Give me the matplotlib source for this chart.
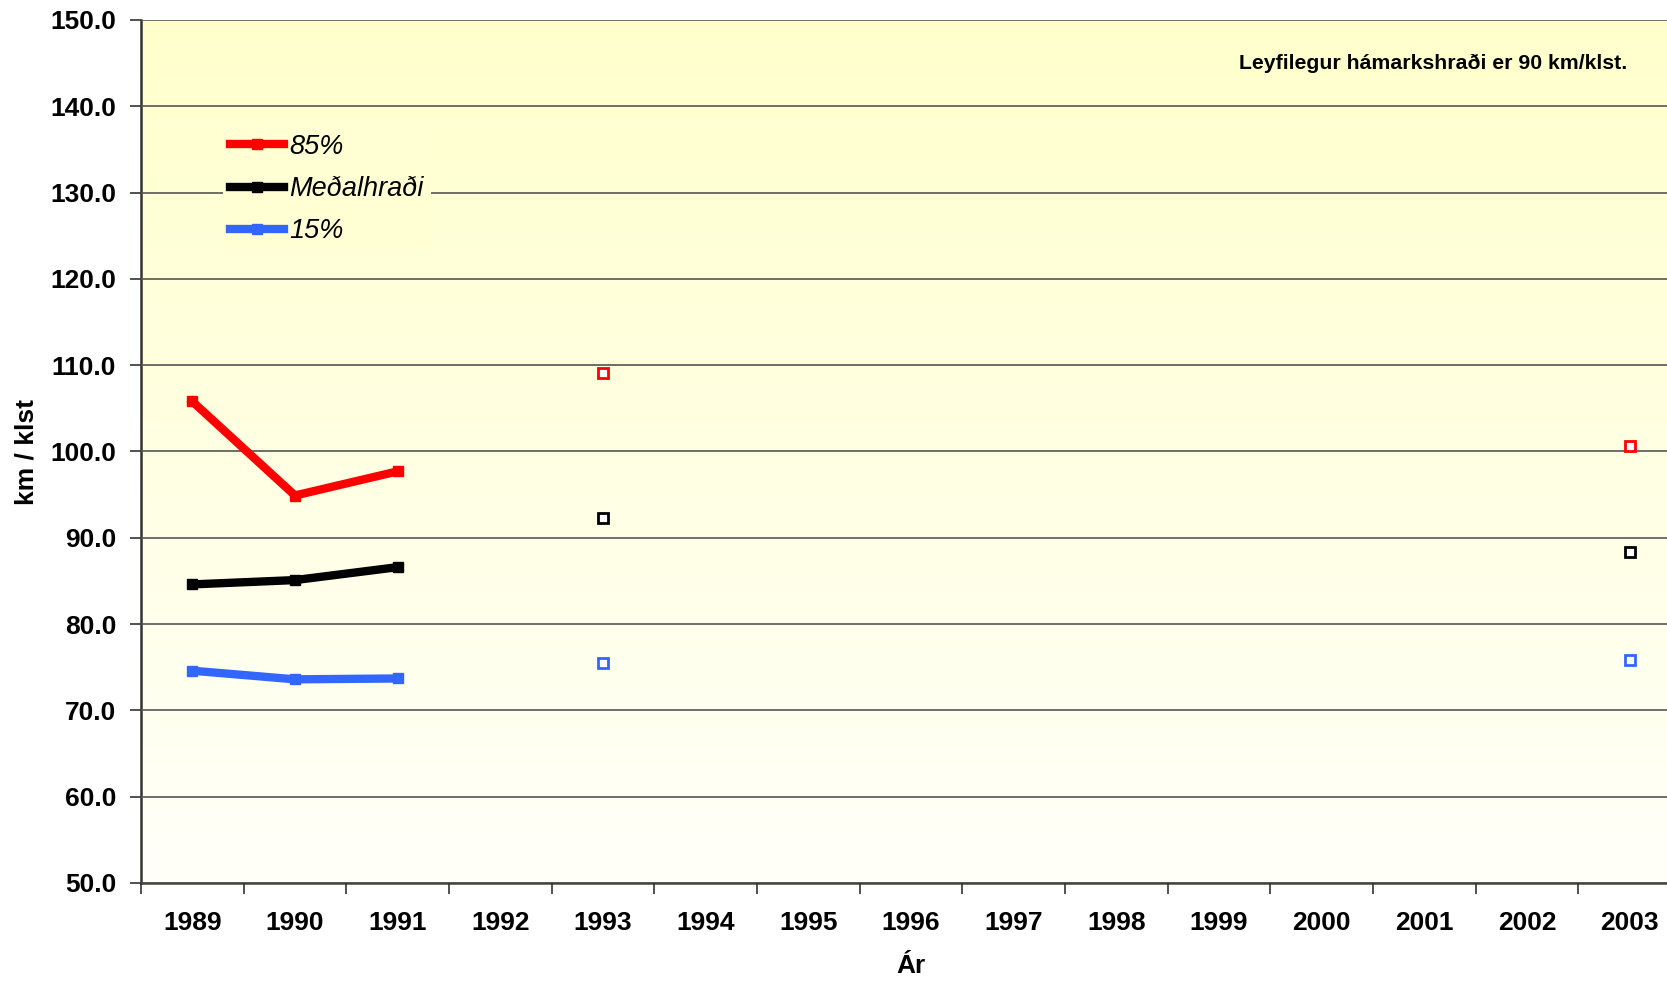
import numpy as np
import matplotlib.pyplot as plt
from matplotlib.colors import LinearSegmentedColormap

plt.rcParams['font.family'] = ['Liberation Sans', 'DejaVu Sans']

years = ['1989', '1990', '1991', '1992', '1993', '1994', '1995', '1996',
         '1997', '1998', '1999', '2000', '2001', '2002', '2003']
p85 = [105.8, 94.9, 97.7, None, 109.1, None, None, None, None, None, None, None, None, None, 100.6]
medal = [84.6, 85.1, 86.6, None, 92.3, None, None, None, None, None, None, None, None, None, 88.4]
p15 = [74.6, 73.6, 73.7, None, 75.5, None, None, None, None, None, None, None, None, None, 75.8]

series = [('85%', p85, '#FF0000'),
          ('Meðalhraði', medal, '#000000'),
          ('15%', p15, '#3366FF')]

fig = plt.figure(figsize=(16.67, 9.83), dpi=100)
ax = fig.add_axes([141 / 1667, 100 / 983, 1540 / 1667, 863 / 983])

# yellow-to-white gradient background
cmap = LinearSegmentedColormap.from_list('bg', ['#FFFFF9', '#FFFFCC'])
grad = np.linspace(0, 1, 256).reshape(-1, 1)
ax.imshow(grad, cmap=cmap, aspect='auto', origin='lower',
          extent=[0, 1, 0, 1], transform=ax.transAxes, zorder=0)

x = np.arange(len(years))
handles = []
for label, vals, col in series:
    v = np.array([np.nan if a is None else a for a in vals], dtype=float)
    # connected part (consecutive years)
    h, = ax.plot(x[:3], v[:3], color=col, lw=6, marker='s', ms=7,
                 solid_joinstyle='miter', zorder=3, label=label)
    handles.append(h)
    # isolated years shown as hollow markers
    ax.plot(x[3:], v[3:], ls='none', marker='s', ms=7, mfc='white',
            mec=col, mew=2, zorder=3)

ax.set_xlim(-0.5, len(years) - 0.5)
ax.set_ylim(50, 150)
ax.set_yticks(np.arange(50, 151, 10))
ax.set_yticklabels(['%.1f' % t for t in np.arange(50, 151, 10)])
ax.set_xticks(x)
ax.set_xticklabels(years)
ax.set_xticks(np.arange(-0.5, len(years)), minor=True)
ax.tick_params(axis='x', which='major', length=0, pad=20)
ax.tick_params(axis='x', which='minor', length=8, width=1.2, color='#333333')
ax.tick_params(axis='y', length=8, width=1.2, color='#333333', pad=10)
for lab in ax.get_xticklabels() + ax.get_yticklabels():
    lab.set_fontsize(19)
    lab.set_fontweight('bold')

ax.grid(axis='y', color='#555555', lw=1.2, zorder=1)
ax.set_axisbelow(False)
for s in ['top', 'right']:
    ax.spines[s].set_visible(False)
ax.spines['left'].set_color('#333333')
ax.spines['left'].set_linewidth(1.8)
ax.spines['bottom'].set_color('#444444')
ax.spines['bottom'].set_linewidth(1.8)

fig.text(27 / 1667, 1 - 452 / 983, 'km / klst', rotation=90, ha='center',
         va='center', fontsize=19, fontweight='bold')
fig.text(911 / 1667, 1 - 966 / 983, 'Ár', ha='center', va='center',
         fontsize=19, fontweight='bold')
fig.text(1627 / 1667, 1 - 63 / 983, 'Leyfilegur hámarkshraði er 90 km/klst.',
         ha='right', va='center', fontsize=15.3, fontweight='bold')

leg = ax.legend(handles=handles, loc='upper left',
                bbox_to_anchor=(223 / 1667, 1 - 127 / 983),
                bbox_transform=fig.transFigure, borderaxespad=0,
                prop={'style': 'italic', 'size': 19.5}, handlelength=2.0,
                handletextpad=0.2, labelspacing=0.6, borderpad=0.25,
                fancybox=False, framealpha=1, facecolor='#FFFFD3',
                edgecolor='none')
leg.set_zorder(4)

fig.savefig('out.png', dpi=100)
